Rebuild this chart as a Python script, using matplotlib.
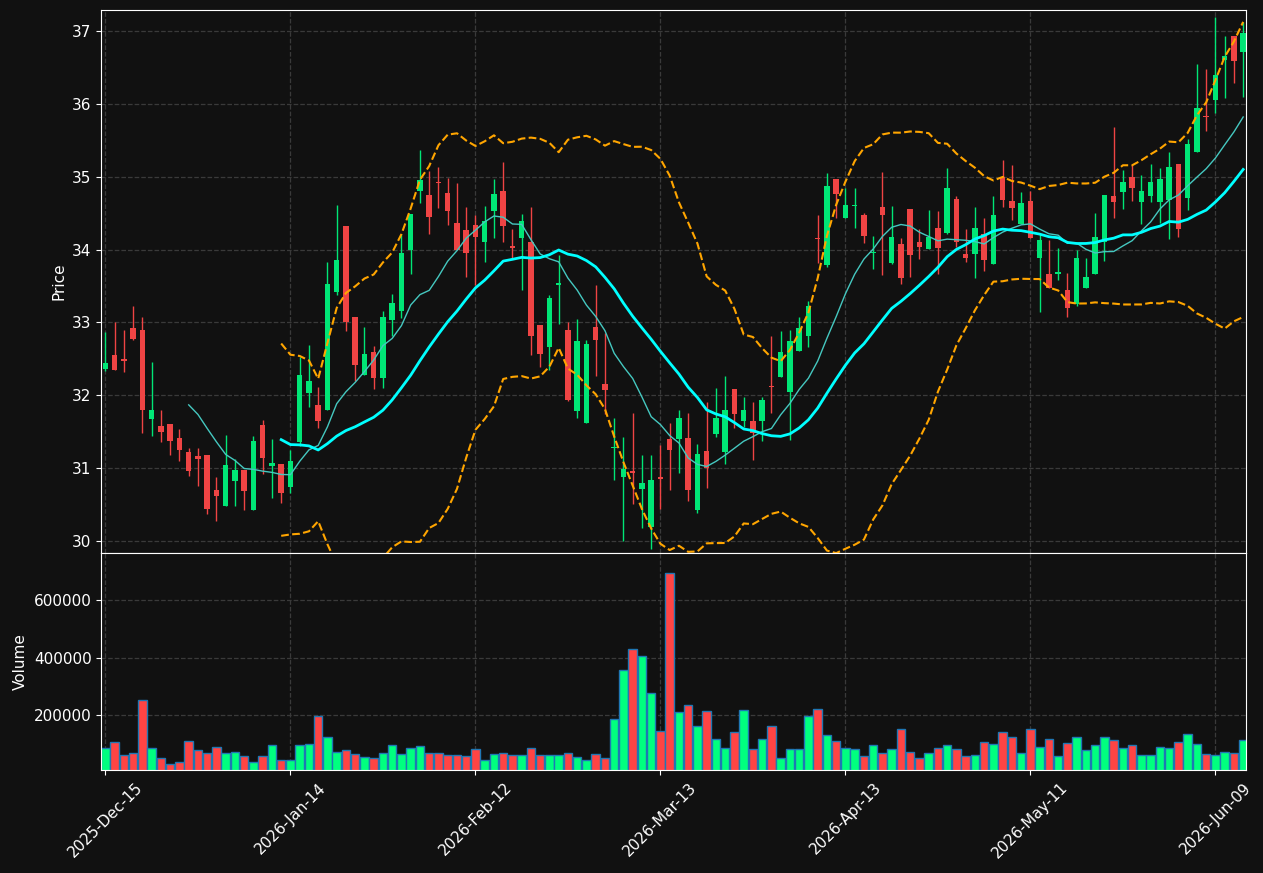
import numpy as np
import pandas as pd
import matplotlib
matplotlib.use("Agg")
from matplotlib import pyplot as plt

# OHLC, one row per trading day (index based x axis)
opens = [32.36, 32.55, 32.48, 32.92, 32.89, 31.67, 31.57, 31.60, 31.41, 31.22,
         31.16, 31.17, 30.70, 30.48, 30.82, 30.97, 30.42, 31.59, 31.02, 31.05,
         30.73, 31.36, 32.03, 31.86, 31.80, 33.42, 34.33, 33.07, 32.28, 32.59,
         32.24, 33.03, 33.16, 34.00, 34.81, 34.75, 34.93, 34.78, 34.36, 34.27,
         34.34, 34.10, 34.53, 34.81, 34.05, 34.16, 34.11, 32.97, 32.66, 33.51,
         32.90, 31.78, 31.62, 32.93, 32.15, 31.27, 30.88, 30.94, 30.71, 30.19,
         30.87, 31.40, 31.40, 31.41, 30.42, 31.23, 31.46, 31.22, 32.08, 31.64,
         31.65, 31.65, 32.12, 32.25, 32.04, 32.61, 32.81, 34.15, 33.79, 34.97,
         34.44, 34.60, 34.47, 33.95, 34.59, 33.81, 34.08, 34.56, 34.11, 34.01,
         34.30, 34.23, 34.70, 33.94, 33.94, 34.22, 33.80, 35.00, 34.67, 34.35,
         34.67, 33.88, 33.67, 33.67, 33.44, 33.25, 33.47, 33.67, 34.11, 34.73,
         34.79, 35.00, 34.66, 34.73, 34.66, 34.68, 35.17, 34.71, 35.34, 35.84,
         36.05, 36.61, 36.94, 36.71]
highs = [32.87, 33.01, 32.90, 33.22, 33.07, 32.45, 31.80, 31.60, 31.53, 31.27,
         31.27, 31.17, 30.87, 31.45, 31.12, 30.97, 31.44, 31.66, 31.39, 31.05,
         31.25, 32.52, 32.69, 32.11, 33.83, 34.61, 34.33, 33.07, 32.94, 32.67,
         33.16, 33.39, 34.22, 34.49, 35.37, 35.08, 35.13, 34.98, 34.92, 34.59,
         34.48, 34.60, 34.97, 35.20, 34.28, 34.49, 34.58, 32.97, 33.38, 33.92,
         33.00, 33.05, 32.76, 33.51, 32.85, 31.68, 31.43, 31.76, 31.17, 31.18,
         31.31, 31.61, 31.79, 31.75, 31.33, 31.90, 32.10, 32.26, 32.08, 31.97,
         31.90, 31.97, 32.81, 32.88, 32.90, 33.07, 33.29, 34.47, 35.05, 34.97,
         34.85, 34.85, 34.50, 34.19, 35.06, 34.60, 34.16, 34.56, 34.29, 34.54,
         34.53, 35.12, 34.74, 34.29, 34.58, 34.44, 34.74, 35.23, 35.16, 34.79,
         34.81, 34.22, 34.13, 34.02, 33.68, 34.00, 33.89, 34.51, 34.75, 35.69,
         35.09, 35.16, 35.02, 35.18, 35.12, 35.34, 35.17, 35.52, 36.55, 36.48,
         37.20, 36.94, 36.94, 37.13]
lows = [32.33, 32.34, 32.32, 32.76, 31.48, 31.44, 31.36, 31.18, 31.10, 30.89,
        30.75, 30.37, 30.27, 30.48, 30.48, 30.42, 30.42, 30.91, 30.59, 30.52,
        30.66, 31.30, 31.83, 31.55, 31.80, 33.38, 32.88, 32.20, 32.28, 32.08,
        32.10, 32.81, 33.06, 33.67, 34.64, 34.22, 34.57, 34.34, 34.00, 33.63,
        33.52, 33.83, 34.16, 34.11, 33.89, 33.44, 32.55, 32.38, 32.35, 32.98,
        31.92, 31.69, 31.62, 32.26, 31.74, 30.83, 30.00, 30.50, 30.17, 29.89,
        30.43, 30.69, 30.93, 30.55, 30.38, 30.72, 31.43, 31.05, 31.55, 31.56,
        31.11, 31.37, 31.75, 32.25, 31.38, 32.61, 32.66, 33.82, 33.76, 34.44,
        34.44, 34.30, 34.09, 33.73, 33.65, 33.80, 33.53, 33.63, 33.87, 34.01,
        33.66, 34.22, 34.03, 33.83, 33.61, 33.70, 33.80, 34.58, 34.41, 34.35,
        34.16, 33.14, 33.47, 33.58, 33.07, 33.22, 33.47, 33.67, 33.85, 34.43,
        34.56, 34.67, 34.35, 34.66, 34.37, 34.15, 34.18, 34.54, 35.34, 35.63,
        35.88, 36.08, 36.29, 36.10]
closes = [32.44, 32.35, 32.47, 32.77, 31.79, 31.79, 31.49, 31.37, 31.24, 30.95,
          31.12, 30.43, 30.62, 31.04, 30.97, 30.68, 31.37, 31.13, 31.07, 30.66,
          31.09, 32.27, 32.19, 31.65, 33.53, 33.86, 33.01, 32.42, 32.56, 32.24,
          33.07, 33.26, 33.95, 34.49, 34.95, 34.45, 34.91, 34.53, 34.00, 33.96,
          34.17, 34.40, 34.76, 34.32, 34.02, 34.40, 32.81, 32.56, 33.34, 33.54,
          31.93, 32.75, 32.70, 32.76, 32.07, 31.29, 30.98, 30.93, 30.79, 30.83,
          30.85, 31.24, 31.68, 30.70, 31.19, 31.00, 31.68, 31.79, 31.74, 31.79,
          31.48, 31.93, 32.11, 32.59, 32.75, 32.92, 33.23, 34.14, 34.88, 34.76,
          34.62, 34.62, 34.19, 33.97, 34.48, 34.18, 33.61, 33.93, 34.03, 34.18,
          34.02, 34.85, 34.11, 33.89, 34.30, 33.86, 34.48, 34.68, 34.57, 34.64,
          34.16, 34.13, 33.47, 33.69, 33.20, 33.88, 33.62, 34.18, 34.75, 34.66,
          34.93, 34.85, 34.81, 34.93, 34.97, 35.14, 34.28, 35.45, 35.94, 35.82,
          36.40, 36.66, 36.59, 36.98]
volumes = [85200, 106000, 61900, 67800, 252100, 85200, 50400, 29600, 38700, 109500,
           78200, 67800, 88700, 67800, 71300, 57400, 38700, 57400, 95600, 43500,
           43500, 95600, 99100, 197500, 123500, 71300, 78200, 64300, 53900, 50400,
           67800, 95600, 64300, 85200, 92200, 67800, 67800, 60900, 60900, 57400,
           81700, 43500, 64300, 67800, 60900, 60900, 85200, 60900, 60900, 60900,
           67800, 53900, 43500, 64300, 50400, 186100, 356500, 429500, 405200, 276500,
           144300, 693900, 210400, 234800, 163800, 213900, 116500, 85200, 140900, 217400,
           81700, 116500, 163800, 50400, 81700, 81700, 196500, 220900, 130400, 109500,
           85200, 81700, 57400, 95600, 67800, 81700, 151300, 71300, 50400, 67800,
           85200, 95600, 81700, 57400, 60900, 106000, 99100, 140900, 123500, 67800,
           151300, 88700, 116500, 57400, 102600, 123500, 78200, 95600, 123500, 113000,
           85200, 95600, 60900, 60900, 88700, 85200, 106000, 133900, 99100, 64300,
           60900, 71300, 67800, 113000]

tick_labels = ["2025-Dec-15", "2026-Jan-14", "2026-Feb-12", "2026-Mar-13",
               "2026-Apr-13", "2026-May-11", "2026-Jun-09"]

BG = "#111111"
UP = "#00e676"
DOWN = "#ef4444"
VUP = "#00ff7f"
VDOWN = "#ff4444"

df = pd.DataFrame({"open": opens, "high": highs, "low": lows,
                   "close": closes, "volume": volumes})
x = np.arange(len(df))
up = df["close"] >= df["open"]

ma10 = df["close"].rolling(10).mean()
ma20 = df["close"].rolling(20).mean()
sd20 = df["close"].rolling(20).std(ddof=0)
bb_up = ma20 + 2 * sd20
bb_lo = ma20 - 2 * sd20

fig = plt.figure(figsize=(12.63, 8.73), dpi=100, facecolor=BG)
ax1 = fig.add_axes([0.0802, 0.3666, 0.9063, 0.6219])
ax2 = fig.add_axes([0.0802, 0.1176, 0.9063, 0.2490], sharex=ax1)

for ax in (ax1, ax2):
    ax.set_facecolor(BG)
    for s in ax.spines.values():
        s.set_color("white")
    ax.tick_params(colors="white", labelsize=11)
    ax.grid(True, color="#3a3a3a", linestyle="--", linewidth=0.9)
    ax.set_axisbelow(True)

# candles
colors = np.where(up, UP, DOWN)
ax1.vlines(x, df["low"], df["high"], colors=colors, linewidth=1)
body_lo = np.minimum(df["open"], df["close"])
body_h = np.maximum((df["close"] - df["open"]).abs(), 0.02)
ax1.bar(x, body_h, bottom=body_lo, width=0.6, color=colors, linewidth=0)

ax1.plot(x, ma10, color="#45c8c0", linewidth=1)
ax1.plot(x, ma20, color="cyan", linewidth=2)
ax1.plot(x, bb_up, color="orange", linestyle="--", linewidth=1.5)
ax1.plot(x, bb_lo, color="orange", linestyle="--", linewidth=1.5)

ax1.set_ylim(df["low"].min() * 0.998, df["high"].max() * 1.0025)
ax1.set_ylabel("Price", color="white", fontsize=11)
ax1.tick_params(axis="x", labelbottom=False, length=0)

# volume
vcol = np.where(up, VUP, VDOWN)
ax2.bar(x, df["volume"], width=0.92, color=vcol, edgecolor="#1f77b4", linewidth=1)
ax2.set_ylim(df["volume"].min() * 0.3, df["volume"].max() * 1.1)
ax2.set_ylabel("Volume", color="white", fontsize=11)

ticks = np.arange(0, len(df), 20)
ax2.set_xticks(ticks)
ax2.set_xticklabels(tick_labels, rotation=45)
ax2.set_xlim(-0.45, len(df) - 0.7)

fig.savefig("out.png", dpi=100, facecolor=BG)
